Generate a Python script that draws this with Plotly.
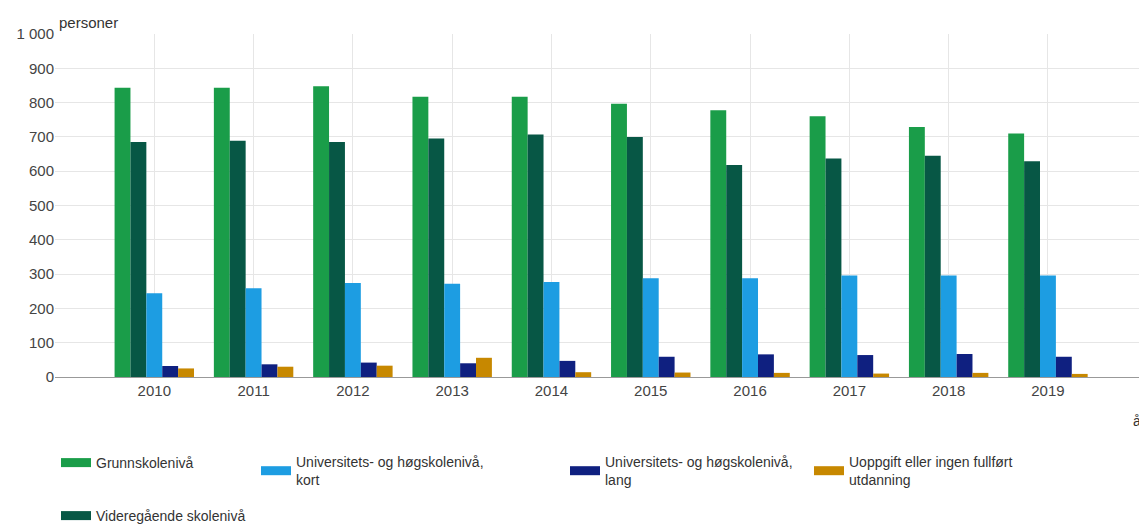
import plotly.graph_objects as go

# ---- data ----
years = [2010, 2011, 2012, 2013, 2014, 2015, 2016, 2017, 2018, 2019]
year_labels = ["2010", "2011", "2012", "2013", "2014", "2015", "2016", "2017", "2018", "2019"]
grunnskole = [843, 843, 848, 817, 817, 797, 778, 760, 729, 710]
videregaende = [685, 689, 685, 695, 707, 700, 618, 637, 645, 629]
uni_kort = [244, 259, 274, 272, 277, 288, 288, 296, 296, 296]
uni_lang = [32, 37, 42, 40, 47, 59, 66, 64, 67, 59]
uoppgitt = [25, 30, 33, 56, 14, 13, 12, 10, 12, 9]
y_ticks = [0, 100, 200, 300, 400, 500, 600, 700, 800, 900, 1000]
y_tick_labels = ["0", "100", "200", "300", "400", "500", "600", "700", "800", "900", "1 000"]

series = [
    ("Grunnskolenivå", grunnskole, "#1a9d49", "legend"),
    ("Videregående skolenivå", videregaende, "#075745", "legend2"),
    ("Universitets- og høgskolenivå,<br>kort", uni_kort, "#1d9de2", "legend3"),
    ("Universitets- og høgskolenivå,<br>lang", uni_lang, "#0f2080", "legend4"),
    ("Uoppgift eller ingen fullført<br>utdanning", uoppgitt, "#c78800", "legend5"),
]

FONT = "Liberation Sans, Arial, sans-serif"
W, H = 1139, 528

fig = go.Figure()
for name, vals, color, _ in series:
    fig.add_trace(go.Bar(x=years, y=vals, name=name.replace("<br>", " "),
                         marker=dict(color=color, line=dict(width=0)),
                         showlegend=False))

# legend entries (wide rectangular swatches)
for name, vals, color, lg in series:
    fig.add_trace(go.Scatter(x=[None], y=[None], mode="lines", name=name,
                             line=dict(color=color, width=9), legend=lg,
                             showlegend=True, hoverinfo="skip"))

def lg(px_left, py_center):
    return dict(x=px_left / W, y=1 - py_center / H, xref="container", yref="container",
                xanchor="left", yanchor="middle", bgcolor="rgba(0,0,0,0)",
                font=dict(family=FONT, size=14, color="#333333"),
                itemclick=False, itemdoubleclick=False)

fig.update_layout(
    width=W, height=H,
    margin=dict(l=55, r=0, t=34, b=151, autoexpand=False),
    paper_bgcolor="white", plot_bgcolor="white",
    barmode="group", bargap=0.2, bargroupgap=0,
    font=dict(family=FONT, size=15, color="#444444"),
    legend=lg(56, 463),
    legend2=lg(56, 516),
    legend3=lg(256, 471),
    legend4=lg(565, 471),
    legend5=lg(809, 471),
    xaxis=dict(range=[2009, 2019.917], tickmode="array", tickvals=years, ticktext=year_labels,
               showgrid=True, gridcolor="#e6e6e6", gridwidth=1, zeroline=False,
               showline=True, linecolor="#999999", linewidth=1, ticks="",
               tickfont=dict(family=FONT, size=15, color="#444444"), fixedrange=True),
    yaxis=dict(range=[0, 1000], tickmode="array", tickvals=y_ticks, ticktext=y_tick_labels,
               showgrid=True, gridcolor="#e6e6e6", gridwidth=1, zeroline=False,
               showline=False, ticks="",
               tickfont=dict(family=FONT, size=15, color="#444444"), fixedrange=True),
    annotations=[
        dict(text="personer", xref="paper", yref="paper", x=0, y=1, xanchor="left",
             yanchor="middle", xshift=2, yshift=12, showarrow=False,
             font=dict(family=FONT, size=15, color="#333333")),
        dict(text="år", xref="paper", yref="paper", x=1, y=0, xanchor="left",
             yanchor="middle", xshift=-8, yshift=-44, showarrow=False,
             font=dict(family=FONT, size=14, color="#333333")),
    ],
)

fig.write_html("out.html",
               config={"displayModeBar": False},
               post_script="document.body.style.margin='0';document.body.style.overflow='hidden';")
